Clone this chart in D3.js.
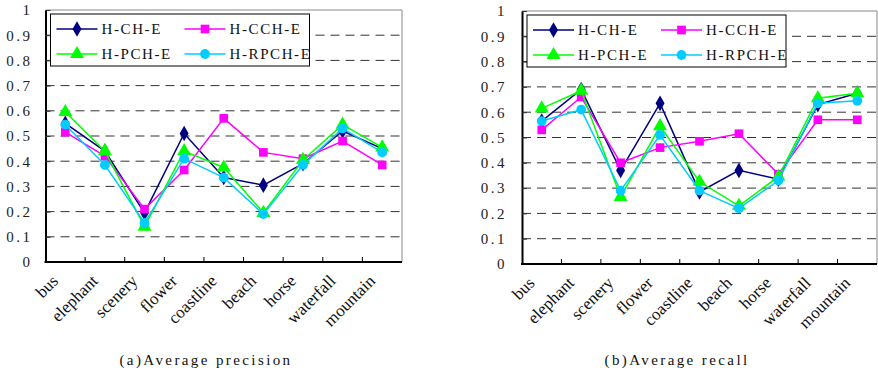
<!DOCTYPE html>
<html>
<head>
<meta charset="utf-8">
<script src="https://cdn.jsdelivr.net/npm/d3@7"></script>
<style>
  body { margin: 0; background: #fff; }
  svg { display: block; }
</style>
</head>
<body>
<svg id="chart" width="878" height="374"></svg>
<script>
// categories and series
var categories = ["bus", "elephant", "scenery", "flower", "coastline", "beach", "horse", "waterfall", "mountain"];
var seriesNames = ["H-CH-E", "H-CCH-E", "H-PCH-E", "H-RPCH-E"];
var yTicks = [0, 0.1, 0.2, 0.3, 0.4, 0.5, 0.6, 0.7, 0.8, 0.9, 1];

// (a) average precision
var precisionCH   = [0.55, 0.44, 0.195, 0.51, 0.335, 0.305, 0.39, 0.52, 0.45];
var precisionCCH  = [0.515, 0.42, 0.21, 0.365, 0.57, 0.435, 0.41, 0.48, 0.385];
var precisionPCH  = [0.595, 0.44, 0.14, 0.44, 0.375, 0.195, 0.405, 0.545, 0.455];
var precisionRPCH = [0.545, 0.385, 0.155, 0.41, 0.335, 0.19, 0.385, 0.53, 0.435];

// (b) average recall
var recallCH   = [0.565, 0.69, 0.37, 0.635, 0.285, 0.37, 0.335, 0.63, 0.675];
var recallCCH  = [0.53, 0.66, 0.40, 0.46, 0.485, 0.515, 0.355, 0.57, 0.57];
var recallPCH  = [0.615, 0.685, 0.265, 0.545, 0.325, 0.23, 0.345, 0.655, 0.675];
var recallRPCH = [0.565, 0.61, 0.29, 0.51, 0.29, 0.22, 0.33, 0.635, 0.645];

var colors = ["#000080", "#ff00ff", "#00ff00", "#00ccff"];
var symbols = [d3.symbolDiamond, d3.symbolSquare, d3.symbolTriangle, d3.symbolCircle];
var symSizes = [70, 75, 85, 75];
var serif = "Liberation Serif, DejaVu Serif, serif";

var svg = d3.select("#chart");

function drawChart(opt, data, caption) {
    var x = d3.scaleBand().domain(categories).range([opt.left, opt.right]).padding(0);
    var y = d3.scaleLinear().domain([0, 1]).range([opt.bottom, opt.top]);
    var g = svg.append("g");

    // dashed grid
    g.selectAll(".grid").data(yTicks.filter(function (d) { return d > 0 && d < 1; }))
        .enter().append("line")
        .attr("x1", opt.left).attr("x2", opt.right)
        .attr("y1", function (d) { return y(d); }).attr("y2", function (d) { return y(d); })
        .attr("stroke", "#333").attr("stroke-width", 1).attr("stroke-dasharray", "9,6");

    // top and right frame
    g.append("path")
        .attr("d", "M" + opt.left + "," + y(1) + "H" + opt.right + "V" + y(0))
        .attr("fill", "none").attr("stroke", "#888").attr("stroke-width", 1);

    // y axis
    var yAxis = g.append("g")
        .attr("transform", "translate(" + opt.left + ",0)")
        .call(d3.axisLeft(y).tickValues(yTicks).tickSizeInner(-5).tickSizeOuter(0).tickPadding(opt.labelPad)
            .tickFormat(function (d) { return d === 0 || d === 1 ? d3.format("d")(d) : d3.format(".1f")(d); }));
    yAxis.select(".domain").attr("stroke", "#000").attr("stroke-width", 2);
    yAxis.selectAll(".tick line").attr("stroke", "#333");
    yAxis.selectAll("text").attr("font-family", serif).attr("font-size", 15)
        .attr("letter-spacing", 2.5).attr("fill", "#222");

    // x axis line + ticks at band edges
    g.append("line").attr("x1", opt.left - 1).attr("x2", opt.right)
        .attr("y1", y(0)).attr("y2", y(0)).attr("stroke", "#000").attr("stroke-width", 2);
    g.selectAll(".xtick").data(categories.slice(1)).enter().append("line")
        .attr("x1", function (d) { return x(d); }).attr("x2", function (d) { return x(d); })
        .attr("y1", y(0)).attr("y2", y(0) - 5).attr("stroke", "#000");

    // category labels
    g.selectAll(".xlab").data(categories).enter().append("text")
        .attr("transform", function (d) {
            return "translate(" + (x(d) + x.bandwidth() / 2 - 6) + "," + (y(0) + 20) + ") rotate(-45)";
        })
        .attr("text-anchor", "end")
        .attr("font-family", serif).attr("font-size", 17).attr("fill", "#111")
        .text(function (d) { return d; });

    // series lines and markers
    data.forEach(function (vals, i) {
        var line = d3.line()
            .x(function (d, j) { return x(categories[j]) + x.bandwidth() / 2; })
            .y(function (d) { return y(d); });
        g.append("path").datum(vals).attr("d", line)
            .attr("fill", "none").attr("stroke", colors[i]).attr("stroke-width", 1.5);
        g.selectAll(".m" + i).data(vals).enter().append("path")
            .attr("d", d3.symbol().type(symbols[i]).size(symSizes[i]))
            .attr("transform", function (d, j) {
                return "translate(" + (x(categories[j]) + x.bandwidth() / 2) + "," + y(d) + ")";
            })
            .attr("fill", colors[i]);
    });

    // legend
    var lx = opt.left + 5, ly = opt.top + 4;
    var lg = g.append("g").attr("transform", "translate(" + lx + "," + ly + ")");
    lg.append("rect").attr("width", 259).attr("height", 52)
        .attr("fill", "#fff").attr("stroke", "#000").attr("stroke-width", 1);
    seriesNames.forEach(function (name, i) {
        var cx = (i % 2) * 128 + 6, cy = Math.floor(i / 2) * 25 + 15;
        lg.append("line").attr("x1", cx).attr("x2", cx + 41).attr("y1", cy).attr("y2", cy)
            .attr("stroke", colors[i]).attr("stroke-width", 1.5);
        lg.append("path").attr("d", d3.symbol().type(symbols[i]).size(symSizes[i]))
            .attr("transform", "translate(" + (cx + 20.5) + "," + cy + ")").attr("fill", colors[i]);
        lg.append("text").attr("x", cx + 45).attr("y", cy + 5)
            .attr("font-family", serif).attr("font-size", 15).attr("letter-spacing", 1.6).attr("fill", "#111")
            .text(name);
    });

    // caption
    svg.append("text").attr("x", opt.captionX).attr("y", 365)
        .attr("text-anchor", "middle")
        .attr("font-family", serif).attr("font-size", 15).attr("letter-spacing", 2.4).attr("fill", "#111")
        .text(caption);
}

drawChart({ left: 45.5, right: 402, top: 10, bottom: 262, labelPad: 13, captionX: 206 },
    [precisionCH, precisionCCH, precisionPCH, precisionRPCH], "(a)Average precision");
drawChart({ left: 522, right: 877, top: 11, bottom: 264, labelPad: 15, captionX: 677 },
    [recallCH, recallCCH, recallPCH, recallRPCH], "(b)Average recall");
</script>
</body>
</html>
